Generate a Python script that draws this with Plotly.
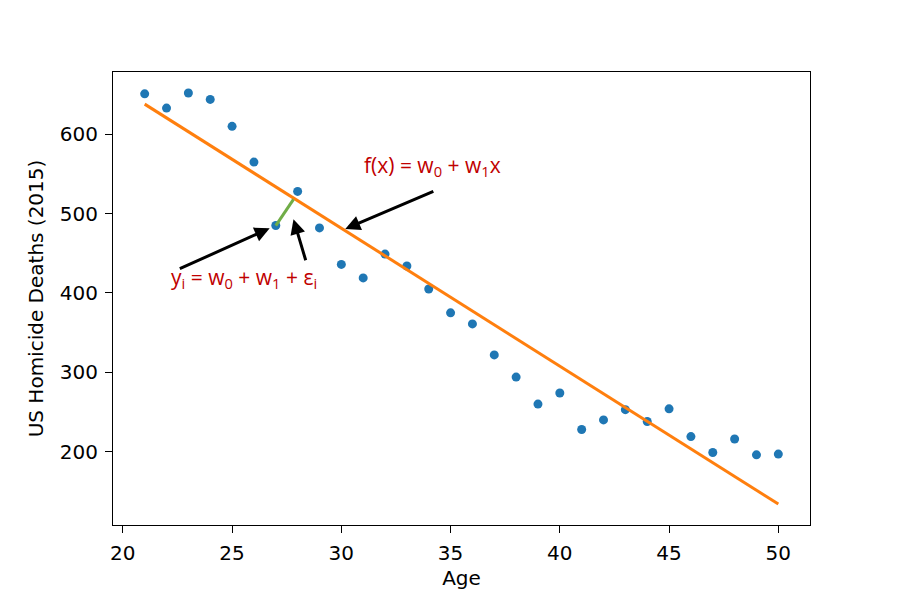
import plotly.graph_objects as go

# Data
ages = [21, 22, 23, 24, 25, 26, 27, 28, 29, 30, 31, 32, 33, 34, 35,
        36, 37, 38, 39, 40, 41, 42, 43, 44, 45, 46, 47, 48, 49, 50]
deaths = [651, 633, 652, 644, 610, 565, 485, 528, 482, 436, 419, 449, 434, 405, 375,
          361, 322, 294, 260, 274, 228, 240, 253, 238, 254, 219, 199, 216, 196, 197]
fit_x = [21, 50]
fit_y = [638, 134]
resid_x = [27, 27.81]
resid_y = [485, 518]

# annotation anchors (data coordinates)
fx_text = (30.93, 560)
fx_tail = (34.28, 529)
fx_tip = (30.18, 480.6)
yi_text = (22.09, 419)
yi_tail = (22.54, 429.8)
yi_tip = (26.72, 481.5)
eps_tail = (28.39, 439.4)
eps_tip = (27.81, 493)

fig = go.Figure()
fig.add_trace(go.Scatter(x=ages, y=deaths, mode="markers",
                         marker=dict(color="#1f77b4", size=9), showlegend=False))
fig.add_trace(go.Scatter(x=fit_x, y=fit_y, mode="lines",
                         line=dict(color="#ff7f0e", width=3), showlegend=False))
fig.add_trace(go.Scatter(x=resid_x, y=resid_y, mode="lines",
                         line=dict(color="#70ad47", width=3), showlegend=False))

red = "#c00000"
tfont = dict(family="Open Sans, Noto Sans, sans-serif", size=21, color=red)
fig.add_annotation(x=fx_text[0], y=fx_text[1], xref="x", yref="y",
                   text="f(x) = w<sub>0</sub> + w<sub>1</sub>x", showarrow=False,
                   xanchor="left", yanchor="middle", font=tfont)
fig.add_annotation(x=yi_text[0], y=yi_text[1], xref="x", yref="y",
                   text="y<sub>i</sub> = w<sub>0</sub> + w<sub>1</sub> + ε<sub>i</sub>",
                   showarrow=False, xanchor="left", yanchor="middle", font=tfont)

for tail, tip in [(fx_tail, fx_tip), (yi_tail, yi_tip), (eps_tail, eps_tip)]:
    fig.add_annotation(x=tip[0], y=tip[1], ax=tail[0], ay=tail[1],
                       xref="x", yref="y", axref="x", ayref="y",
                       text="", showarrow=True, arrowhead=2, arrowsize=1.0,
                       arrowwidth=3, arrowcolor="black", standoff=0, startstandoff=0)

lab_font = dict(family="DejaVu Sans", size=20, color="black")
axis_common = dict(showline=True, linecolor="black", linewidth=1.2, mirror=True,
                   ticks="outside", ticklen=7, tickwidth=1.2, tickcolor="black",
                   showgrid=False, zeroline=False, tickfont=lab_font)

fig.update_layout(
    width=900, height=600,
    margin=dict(l=105, r=98, t=64, b=83),
    paper_bgcolor="white", plot_bgcolor="white",
    xaxis=dict(range=[19.55, 51.45], tickvals=[20, 25, 30, 35, 40, 45, 50],
               title=dict(text="Age", font=lab_font, standoff=6),
               ticklabelstandoff=3, **axis_common),
    yaxis=dict(range=[107.6, 678.5], tickvals=[200, 300, 400, 500, 600],
               title=dict(text="US Homicide Deaths (2015)", font=lab_font, standoff=10),
               ticklabelstandoff=3, **axis_common),
)

fig.write_html("out.html")
